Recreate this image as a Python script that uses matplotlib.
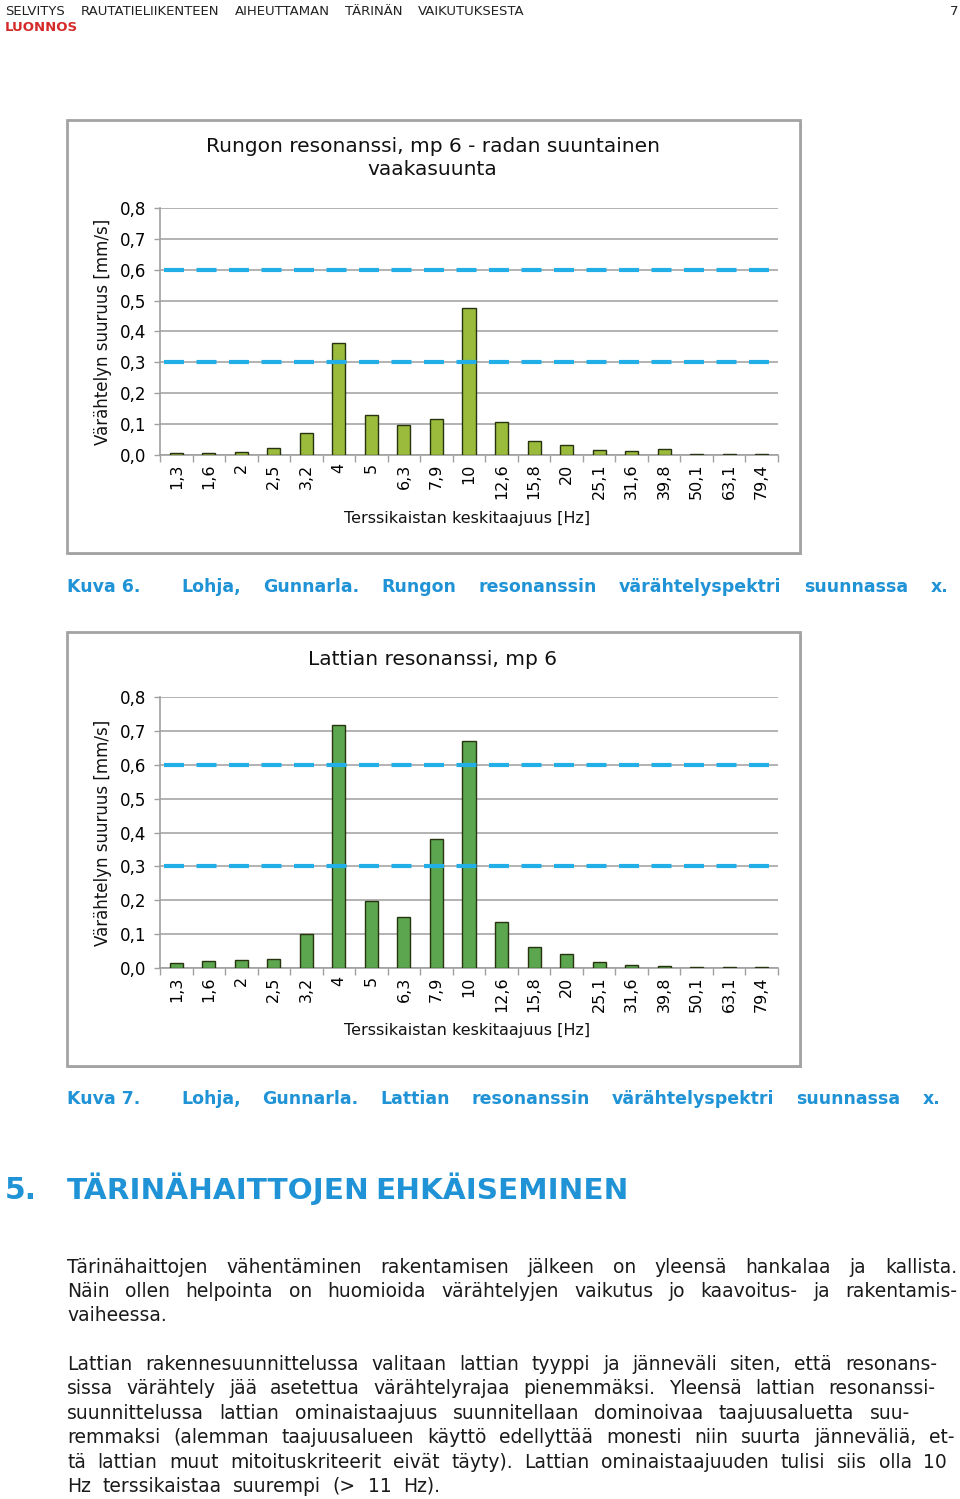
import matplotlib
matplotlib.use('Agg')
import matplotlib.pyplot as plt
from matplotlib.patches import Rectangle

# ---------------- data ----------------
categories = ['1,3', '1,6', '2', '2,5', '3,2', '4', '5', '6,3', '7,9', '10',
              '12,6', '15,8', '20', '25,1', '31,6', '39,8', '50,1', '63,1', '79,4']
runko_values = [0.0065, 0.0065, 0.010, 0.022, 0.072, 0.362, 0.131, 0.098, 0.116, 0.475,
                0.106, 0.046, 0.034, 0.016, 0.013, 0.018, 0.003, 0.003, 0.003]
lattia_values = [0.014, 0.020, 0.023, 0.028, 0.099, 0.717, 0.198, 0.150, 0.380, 0.669,
                 0.136, 0.062, 0.042, 0.017, 0.009, 0.006, 0.003, 0.003, 0.003]
limit_values = [0.3, 0.6]
ytick_values = [0.0, 0.1, 0.2, 0.3, 0.4, 0.5, 0.6, 0.7, 0.8]
ytick_labels = ['0,0', '0,1', '0,2', '0,3', '0,4', '0,5', '0,6', '0,7', '0,8']

title1 = 'Rungon resonanssi, mp 6 - radan suuntainen\nvaakasuunta'
title2 = 'Lattian resonanssi, mp 6'
ylabel = 'Värähtelyn suuruus [mm/s]'
xlabel = 'Terssikaistan keskitaajuus [Hz]'

header = 'SELVITYS RAUTATIELIIKENTEEN AIHEUTTAMAN TÄRINÄN VAIKUTUKSESTA'
page_no = '7'
draft = 'LUONNOS'
caption6 = ('Kuva 6.', 'Lohja, Gunnarla. Rungon resonanssin värähtelyspektri suunnassa x.')
caption7 = ('Kuva 7.', 'Lohja, Gunnarla. Lattian resonanssin värähtelyspektri suunnassa x.')
heading = ('5.', 'TÄRINÄHAITTOJEN EHKÄISEMINEN')
para1 = ['Tärinähaittojen vähentäminen rakentamisen jälkeen on yleensä hankalaa ja kallista.',
         'Näin ollen helpointa on huomioida värähtelyjen vaikutus jo kaavoitus- ja rakentamis-',
         'vaiheessa.']
para2 = ['Lattian rakennesuunnittelussa valitaan lattian tyyppi ja jänneväli siten, että resonans-',
         'sissa värähtely jää asetettua värähtelyrajaa pienemmäksi. Yleensä lattian resonanssi-',
         'suunnittelussa lattian ominaistaajuus suunnitellaan dominoivaa taajuusaluetta suu-',
         'remmaksi (alemman taajuusalueen käyttö edellyttää monesti niin suurta jänneväliä, et-',
         'tä lattian muut mitoituskriteerit eivät täyty). Lattian ominaistaajuuden tulisi siis olla 10',
         'Hz terssikaistaa suurempi (> 11 Hz).']

# ---------------- layout helpers ----------------
W, H = 960, 1499
fig = plt.figure(figsize=(W / 100, H / 100), dpi=100)
fig.patch.set_facecolor('white')
renderer = fig.canvas.get_renderer()


def fx(x):
    return x / W


def fy(y):
    return 1 - y / H


BODY_FONT = ['DejaVu Sans']
CHART_FONT = ['DejaVu Sans']
BLUE_TXT = '#1f93d6'


def base(y, size):
    # baseline pixel row for a line whose capitals are centred on y
    return y + 0.3645 * size * 100 / 72


def words_line(s, x0, x1, y, size, justify=True, family=BODY_FONT, **kw):
    words = s.split(' ')
    yb = base(y, size)
    ts = [fig.text(0, fy(yb), w, fontsize=size, family=family, ha='left', va='baseline', **kw)
          for w in words]
    ws = [t.get_window_extent(renderer).width for t in ts]
    nat = size * 100 / 72 * 0.30
    n = len(words)
    if x1 is not None:
        need = sum(ws) + nat * 0.6 * (n - 1)
        if need > x1 - x0:
            size = size * (x1 - x0) / need
            for t in ts:
                t.set_fontsize(size)
            ws = [t.get_window_extent(renderer).width for t in ts]
            nat = size * 100 / 72 * 0.30
    if justify and n > 1 and x1 is not None:
        gap = max((x1 - x0 - sum(ws)) / (n - 1), nat * 0.6)
    else:
        gap = nat
    x = x0
    for t, w in zip(ts, ws):
        t.set_x(fx(x))
        x += w + gap


def frame(x0, y0, x1, y1):
    fig.patches.append(Rectangle((fx(x0 + 2), fy(y1 + 2)), (x1 - x0) / W, (y1 - y0) / H,
                                 transform=fig.transFigure, facecolor='#bdbdbd',
                                 edgecolor='none', zorder=-3))
    fig.patches.append(Rectangle((fx(x0), fy(y1)), (x1 - x0) / W, (y1 - y0) / H,
                                 transform=fig.transFigure, facecolor='white',
                                 edgecolor='#a3a3a3', lw=2, zorder=-2))


def chart(box, values, color, title, title_y, frame_box):
    frame(*frame_box)
    left, top, right, bottom = box
    ax = fig.add_axes([fx(left), fy(bottom), (right - left) / W, (bottom - top) / H])
    ax.set_facecolor('none')
    xs = list(range(len(categories)))
    ax.bar(xs, values, width=0.4, color=color, edgecolor='#27340f', linewidth=1.0, zorder=3)
    for v in limit_values:
        ax.plot([-0.38, len(categories) - 0.62], [v, v], color='#22aee6', lw=3.0,
                linestyle=(0, (4.8, 3.0)), dash_capstyle='butt', zorder=4)
    ax.set_xlim(-0.5, len(categories) - 0.5)
    ax.set_ylim(0, 0.8)
    ax.set_yticks(ytick_values)
    ax.set_yticklabels(ytick_labels, fontsize=12, family=CHART_FONT)
    ax.set_xticks(xs)
    ax.set_xticklabels(categories, rotation=90, fontsize=11.5, family=CHART_FONT)
    ax.set_xticks([i - 0.5 for i in range(len(categories) + 1)], minor=True)
    ax.tick_params(axis='x', which='major', length=0, pad=6)
    ax.tick_params(axis='x', which='minor', length=5, color='#a0a0a0', width=1)
    ax.tick_params(axis='y', length=4, color='#a0a0a0', width=1, pad=6)
    ax.grid(axis='y', color='#a6a6a6', lw=1.2, zorder=0)
    ax.set_axisbelow(True)
    for side in ('top', 'right'):
        ax.spines[side].set_visible(False)
    for side in ('left', 'bottom'):
        ax.spines[side].set_color('#a0a0a0')
        ax.spines[side].set_linewidth(1.2)
    fx0, fy0, fx1, fy1 = frame_box
    fig.text(fx((fx0 + fx1) / 2 - 1), fy(title_y), title, ha='center', va='top',
             fontsize=14.5, family=CHART_FONT, linespacing=1.25, color='#111111')
    fig.text(fx(103), fy((top + bottom) / 2), ylabel, rotation=90, ha='center', va='center',
             fontsize=12, family=CHART_FONT, color='#111111')
    fig.text(fx((left + right) / 2 - 2), fy(bottom + 63), xlabel, ha='center', va='center',
             fontsize=11.5, family=CHART_FONT, color='#111111')
    return ax


# ---------------- page header ----------------
words_line(header, 5, 525, 10, 9.5, color='#222222')
fig.text(fx(958), fy(base(10, 9.5)), page_no, ha='right', va='baseline', fontsize=9.5,
         family=BODY_FONT, color='#222222')
fig.text(fx(5), fy(base(26, 9.5)), draft, ha='left', va='baseline', fontsize=9.5,
         family=BODY_FONT, weight='bold', color='#d42a2a')

# ---------------- charts ----------------
chart((160, 208, 778, 455), runko_values, '#9bbb3c', title1, 137, (67, 120, 800, 553))
chart((160, 697, 778, 968), lattia_values, '#5ba64f', title2, 650, (67, 632, 800, 1066))

# ---------------- captions ----------------
for (lab, txt), y, xend in ((caption6, 586, 948), (caption7, 1098, 940)):
    fig.text(fx(67), fy(base(y, 12.5)), lab, ha='left', va='baseline', fontsize=12.5,
             family=BODY_FONT, weight='bold', color=BLUE_TXT)
    words_line(txt, 181, xend, y, 12.5, weight='bold', color=BLUE_TXT)

# ---------------- heading ----------------
fig.text(fx(5), fy(base(1188, 21.5)), heading[0], ha='left', va='baseline', fontsize=21.5,
         family=BODY_FONT, weight='bold', color=BLUE_TXT)
words_line(heading[1], 67, 627, 1188, 21.5, weight='bold', color=BLUE_TXT)

# ---------------- body ----------------
p1_y = [1266, 1290, 1314]
p1_end = [957, 957, None]
for s, y, e in zip(para1, p1_y, p1_end):
    words_line(s, 67, e, y, 13.5, justify=e is not None, color='#1a1a1a')

p2_y = [1363, 1387, 1412, 1436, 1461, 1485]
p2_end = [937, 935, 910, 955, 947, 440]
for s, y, e in zip(para2, p2_y, p2_end):
    words_line(s, 67, e, y, 13.5, color='#1a1a1a')

fig.savefig('out.png', dpi=100, facecolor='white')
